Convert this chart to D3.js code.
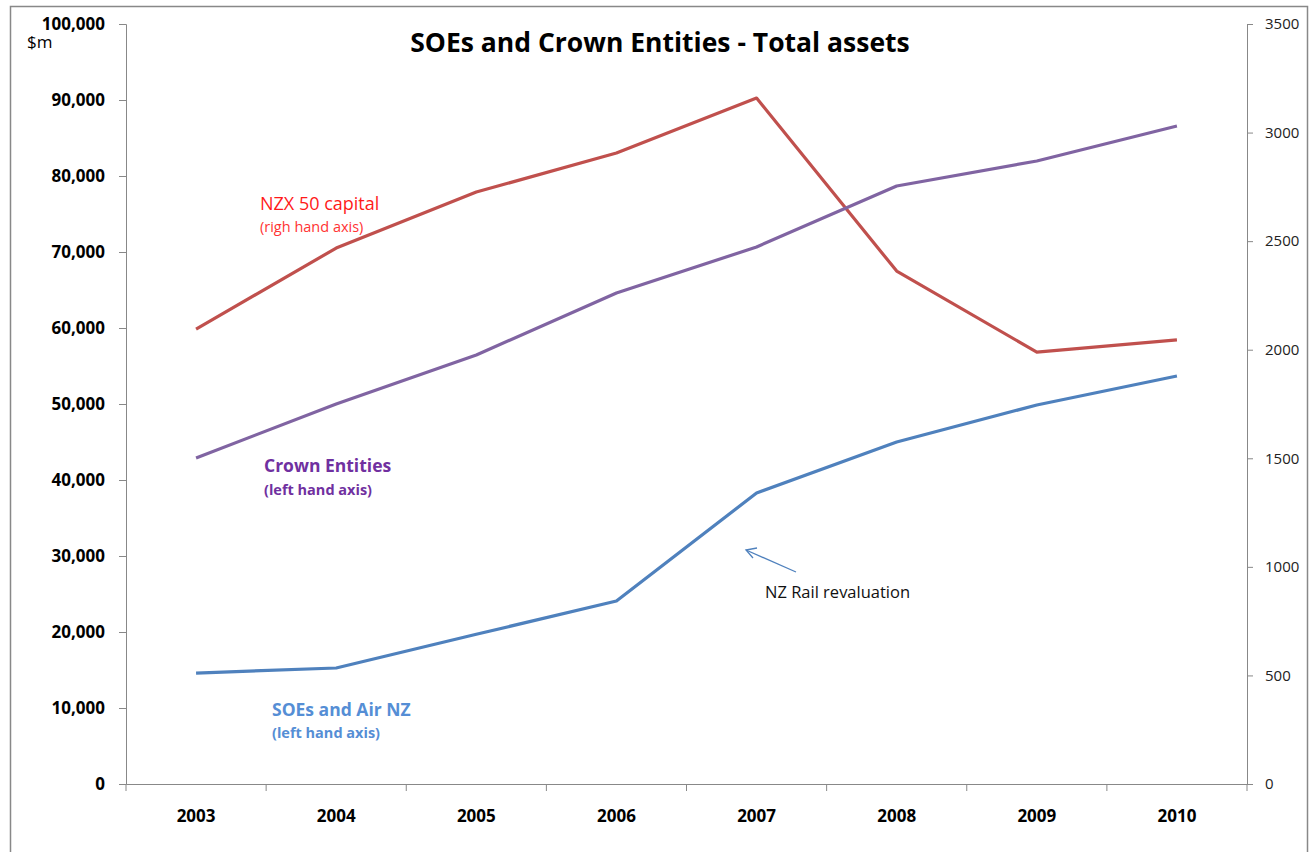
<!DOCTYPE html>
<html>
<head>
<meta charset="utf-8">
<script src="https://cdn.jsdelivr.net/npm/d3@7"></script>
<style>
  body { margin: 0; background: #fff; }
  svg { font-family: "Open Sans", "Noto Sans", sans-serif; }
</style>
</head>
<body>
<div id="chart"></div>
<script>
var width = 1315,
    height = 852;

// values
var years = ["2003", "2004", "2005", "2006", "2007", "2008", "2009", "2010"];
var soeValues = [14600, 15260, 19700, 24080, 38290, 45000, 49870, 53680];
var crownValues = [42900, 50000, 56450, 64600, 70660, 78680, 81970, 86580];
var nzxValues = [2095, 2468, 2726, 2906, 3159, 2362, 1989, 2045];
var leftTicks = [0, 10000, 20000, 30000, 40000, 50000, 60000, 70000, 80000, 90000, 100000];
var rightTicks = [0, 500, 1000, 1500, 2000, 2500, 3000, 3500];

var plotLeft = 126, plotRight = 1247, plotTop = 24, plotBottom = 784;

var svg = d3.select("#chart").append("svg")
    .attr("width", width)
    .attr("height", height);

// outer frame
svg.append("rect")
    .attr("x", 10.5).attr("y", 6.5)
    .attr("width", 1297).attr("height", 860)
    .attr("fill", "none")
    .attr("stroke", "#888").attr("stroke-width", 1.5);

var x = d3.scaleBand().domain(years).range([plotLeft, plotRight]);
var yLeft = d3.scaleLinear().domain([0, 100000]).range([plotBottom, plotTop]);
var yRight = d3.scaleLinear().domain([0, 3500]).range([plotBottom, plotTop]);

var fmt = d3.format(",");

// left axis
var gl = svg.append("g")
    .attr("transform", "translate(" + plotLeft + ",0)")
    .call(d3.axisLeft(yLeft).tickValues(leftTicks).tickFormat(fmt).tickSizeOuter(0).tickSize(7).tickPadding(14));
gl.selectAll("text")
    .attr("font-size", 17).attr("font-weight", "bold").attr("fill", "#000")
    .attr("font-family", "'Open Sans', sans-serif");

// right axis
var gr = svg.append("g")
    .attr("transform", "translate(" + plotRight + ",0)")
    .call(d3.axisRight(yRight).tickValues(rightTicks).tickFormat(d3.format("d")).tickSizeOuter(0).tickSize(6).tickPadding(12));
gr.selectAll("text")
    .attr("font-size", 15).attr("fill", "#222")
    .attr("font-family", "'Open Sans', sans-serif");

// bottom axis, ticks on band edges
var gb = svg.append("g")
    .attr("transform", "translate(0," + plotBottom + ")")
    .call(d3.axisBottom(x).tickSize(0).tickPadding(26));
gb.selectAll("text")
    .attr("font-size", 17).attr("font-weight", "bold").attr("fill", "#000")
    .attr("font-family", "'Open Sans', sans-serif");
gb.selectAll(".edge")
    .data(years.concat(["end"]))
    .enter().append("line")
    .attr("class", "edge")
    .attr("x1", function(d, i) { return plotLeft + x.step() * i; })
    .attr("x2", function(d, i) { return plotLeft + x.step() * i; })
    .attr("y1", 0).attr("y2", 7)
    .attr("stroke", "#888");

svg.selectAll(".domain, .tick line").attr("stroke", "#888");

// series lines
var cx = function(d, i) { return x(years[i]) + x.bandwidth() / 2; };

function drawLine(values, scale, color) {
    svg.append("path")
        .datum(values)
        .attr("fill", "none")
        .attr("stroke", color)
        .attr("stroke-width", 3.2)
        .attr("stroke-linejoin", "round")
        .attr("d", d3.line().x(cx).y(function(d) { return scale(d); }));
}

drawLine(nzxValues, yRight, "#C0504D");
drawLine(crownValues, yLeft, "#8064A2");
drawLine(soeValues, yLeft, "#4F81BD");

// title and unit
svg.append("text")
    .attr("x", 660).attr("y", 52)
    .attr("text-anchor", "middle")
    .attr("font-size", 26.5).attr("font-weight", "bold")
    .text("SOEs and Crown Entities - Total assets");

svg.append("text")
    .attr("x", 27).attr("y", 48)
    .attr("font-size", 17)
    .text("$m");

// series labels
var labels = [
    {t: "NZX 50 capital", x: 260, y: 210, size: 18, bold: false, color: "#FF1A1A"},
    {t: "(righ hand axis)", x: 260, y: 232, size: 14.5, bold: false, color: "#FF3333"},
    {t: "Crown Entities", x: 264, y: 472, size: 17.5, bold: true, color: "#7030A0"},
    {t: "(left hand axis)", x: 264, y: 495, size: 14.5, bold: true, color: "#7030A0"},
    {t: "SOEs and Air NZ", x: 272, y: 716, size: 17.5, bold: true, color: "#558ED5"},
    {t: "(left hand axis)", x: 272, y: 738, size: 14.5, bold: true, color: "#558ED5"},
    {t: "NZ Rail revaluation", x: 765, y: 598, size: 16.5, bold: false, color: "#111"}
];
svg.selectAll(".lab")
    .data(labels)
    .enter().append("text")
    .attr("class", "lab")
    .attr("x", function(d) { return d.x; })
    .attr("y", function(d) { return d.y; })
    .attr("font-size", function(d) { return d.size; })
    .attr("font-weight", function(d) { return d.bold ? "bold" : "normal"; })
    .attr("fill", function(d) { return d.color; })
    .text(function(d) { return d.t; });

// annotation arrow
svg.append("line")
    .attr("x1", 796).attr("y1", 572)
    .attr("x2", 746).attr("y2", 550)
    .attr("stroke", "#4F81BD").attr("stroke-width", 1.3);
svg.append("path")
    .attr("d", "M757,548 L746,550 L753,558")
    .attr("fill", "none")
    .attr("stroke", "#4F81BD").attr("stroke-width", 1.3);
</script>
</body>
</html>
